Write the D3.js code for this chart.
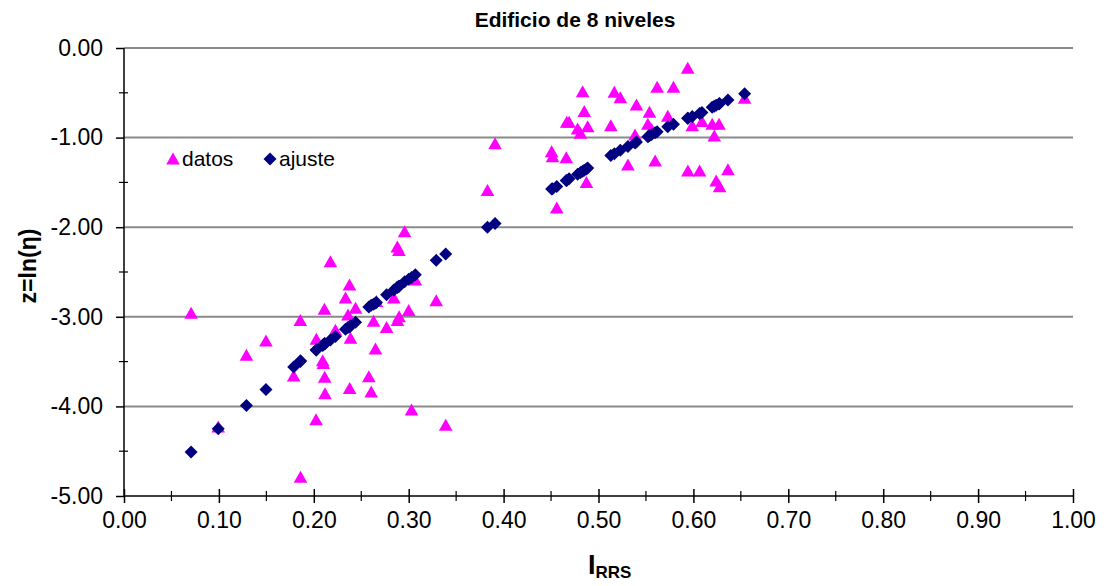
<!DOCTYPE html>
<html>
<head>
<meta charset="utf-8">
<script src="https://cdn.jsdelivr.net/npm/d3@7"></script>
<style>
  html, body { margin: 0; padding: 0; background: #fff; }
  svg { display: block; font-family: "Liberation Sans", Arial, sans-serif; }
</style>
</head>
<body>
<svg id="chart" width="1104" height="586"></svg>
<script>
// Relative residual strength index of each record
const irrs = [
  0.0707, 0.0993, 0.129, 0.1496, 0.1788, 0.1858, 0.186, 0.2024, 0.2027, 0.2094,
  0.2100, 0.2112, 0.2115, 0.2118, 0.2175, 0.2228, 0.2334, 0.236, 0.2376, 0.2378,
  0.2387, 0.244, 0.258, 0.2605, 0.263, 0.265, 0.266, 0.2767, 0.2844, 0.288,
  0.2882, 0.2897, 0.2899, 0.2957, 0.300, 0.303, 0.307, 0.329, 0.339, 0.383,
  0.391,
  0.4506, 0.4516, 0.456, 0.466, 0.4665, 0.469, 0.478, 0.481, 0.4833, 0.485,
  0.4873, 0.4886, 0.513, 0.5167, 0.523, 0.531, 0.5385, 0.540, 0.552, 0.5537,
  0.556, 0.5597, 0.5618, 0.573, 0.579, 0.594, 0.5988, 0.6065, 0.609, 0.6198,
  0.622, 0.624, 0.627, 0.6276, 0.6364, 0.654, 0.5942
];

// Observed z = ln(eta)
const zDatos = [
  -2.96, -4.23, -3.43, -3.27, -3.66, -3.04, -4.79, -4.15, -3.25, -3.49,
  -3.52, -2.917, -3.675, -3.86, -2.385, -3.15, -2.79, -2.98, -2.645, -3.80,
  -3.24, -2.905, -3.67, -3.84, -3.05, -3.36, -2.83, -3.12, -2.79, -2.22,
  -3.04, -2.26, -3.00, -2.05, -2.93, -4.04, -2.59, -2.82, -4.21, -1.59,
  -1.07,
  -1.157, -1.213, -1.785, -1.225, -0.83, -0.83, -0.904, -0.952, -0.488, -0.71,
  -1.50, -0.878, -0.867, -0.495, -0.554, -1.306, -0.971, -0.636, -0.85, -0.718,
  -0.91, -1.261, -0.439, -0.763, -0.439, -0.227, -0.867, -1.373, -0.82, -0.852,
  -0.982, -1.484, -0.852, -1.548, -1.36, -0.561, -1.373
];

// Fitted z for the same records
const zAjuste = [
  -4.51, -4.25, -3.99, -3.81, -3.56, -3.50, -3.49, -3.37, -3.37, -3.32,
  -3.31, -3.30, -3.30, -3.30, -3.26, -3.22, -3.14, -3.12, -3.11, -3.11,
  -3.10, -3.06, -2.89, -2.87, -2.86, -2.845, -2.84, -2.755, -2.70, -2.67,
  -2.67, -2.66, -2.66, -2.61, -2.58, -2.56, -2.53, -2.37, -2.30, -2.00,
  -1.96,
  -1.575, -1.57, -1.545, -1.48, -1.48, -1.46, -1.41, -1.39, -1.375, -1.365,
  -1.35, -1.34, -1.20, -1.18, -1.14, -1.10, -1.06, -1.05, -0.99, -0.98,
  -0.965, -0.945, -0.935, -0.88, -0.85, -0.785, -0.765, -0.73, -0.72, -0.66,
  -0.65, -0.64, -0.625, -0.62, -0.58, -0.51, -0.785
];

const xTickValues = [0, 0.1, 0.2, 0.3, 0.4, 0.5, 0.6, 0.7, 0.8, 0.9, 1.0];
const xTickLabels = ["0.00", "0.10", "0.20", "0.30", "0.40", "0.50", "0.60", "0.70", "0.80", "0.90", "1.00"];
const yTickValues = [0, -1, -2, -3, -4, -5];
const yTickLabels = ["0.00", "-1.00", "-2.00", "-3.00", "-4.00", "-5.00"];
const seriesNames = ["datos", "ajuste"];

const svg = d3.select("#chart");
const plotLeft = 124, plotRight = 1073, plotTop = 48, plotBottom = 496;

const x = d3.scaleLinear().domain([0, 1]).range([plotLeft, plotRight]);
const y = d3.scaleLinear().domain([-5, 0]).range([plotBottom, plotTop]);

const MAGENTA = "#ff00ff";
const NAVY = "#000080";

// marker shapes, centred on the origin
const triPath = "M0,-6.5 L6.8,5.5 L-6.8,5.5 Z";
const diaPath = "M0,-6.5 L6.5,0 L0,6.5 L-6.5,0 Z";

// horizontal gridlines
svg.append("g")
  .selectAll("line")
  .data(yTickValues.filter(v => v > -5))
  .join("line")
  .attr("x1", plotLeft).attr("x2", plotRight)
  .attr("y1", d => y(d)).attr("y2", d => y(d))
  .attr("stroke", "#8a8a8a")
  .attr("stroke-width", 2);

// y axis
const yAxis = d3.axisLeft(y)
  .tickValues(yTickValues)
  .tickSize(8)
  .tickFormat((d, i) => yTickLabels[i]);
const gy = svg.append("g").attr("transform", `translate(${plotLeft},0)`).call(yAxis);
gy.select(".domain").attr("stroke", "#000").attr("stroke-width", 1.5).attr("d", `M0,${plotTop}V${plotBottom}`);
gy.selectAll(".tick line").attr("stroke", "#000").attr("stroke-width", 1.5);
gy.selectAll(".tick text")
  .attr("x", -21)
  .attr("font-family", "Liberation Sans, Arial, sans-serif")
  .attr("font-size", 23)
  .attr("fill", "#000");

// y minor ticks
const yMinor = d3.range(-4.5, 0, 1);
svg.append("g")
  .selectAll("line")
  .data(yMinor)
  .join("line")
  .attr("x1", plotLeft - 5).attr("x2", plotLeft + 4)
  .attr("y1", d => y(d)).attr("y2", d => y(d))
  .attr("stroke", "#000").attr("stroke-width", 1.2);

// x axis
const xAxis = d3.axisBottom(x)
  .tickValues(xTickValues)
  .tickSize(7)
  .tickFormat((d, i) => xTickLabels[i]);
const gx = svg.append("g").attr("transform", `translate(0,${plotBottom})`).call(xAxis);
gx.select(".domain").attr("stroke", "#000").attr("stroke-width", 1.5).attr("d", `M${plotLeft},0H${plotRight}`);
gx.selectAll(".tick line").attr("stroke", "#000").attr("stroke-width", 1.5).attr("y1", -7);
gx.selectAll(".tick text")
  .attr("y", 16)
  .attr("font-family", "Liberation Sans, Arial, sans-serif")
  .attr("font-size", 23)
  .attr("fill", "#000");

// x minor ticks
const xMinor = d3.range(0.05, 1, 0.1);
svg.append("g")
  .selectAll("line")
  .data(xMinor)
  .join("line")
  .attr("x1", d => x(d)).attr("x2", d => x(d))
  .attr("y1", plotBottom - 5).attr("y2", plotBottom + 5)
  .attr("stroke", "#000").attr("stroke-width", 1.2);

// observed points
svg.append("g")
  .selectAll("path")
  .data(irrs.map((v, i) => [v, zDatos[i]]))
  .join("path")
  .attr("d", triPath)
  .attr("transform", d => `translate(${x(d[0])},${y(d[1])})`)
  .attr("fill", MAGENTA);

// fitted points
svg.append("g")
  .selectAll("path")
  .data(irrs.map((v, i) => [v, zAjuste[i]]))
  .join("path")
  .attr("d", diaPath)
  .attr("transform", d => `translate(${x(d[0])},${y(d[1])})`)
  .attr("fill", NAVY);

// title
svg.append("text")
  .attr("x", 575).attr("y", 27)
  .attr("text-anchor", "middle")
  .attr("font-size", 21)
  .attr("font-weight", "bold")
  .text("Edificio de 8 niveles");

// y axis title
svg.append("text")
  .attr("transform", "translate(36,266) rotate(-90)")
  .attr("text-anchor", "middle")
  .attr("font-size", 23)
  .attr("font-weight", "bold")
  .text("z=ln(η)");

// x axis title with subscript
const xt = svg.append("text")
  .attr("x", 588).attr("y", 574)
  .attr("font-weight", "bold");
xt.append("tspan").attr("font-size", 27).text("I");
xt.append("tspan").attr("font-size", 17).attr("dy", 4).text("RRS");

// legend
const legend = svg.append("g");
const legendItems = [
  { name: seriesNames[0], shape: triPath, color: MAGENTA, mx: 173, tx: 182 },
  { name: seriesNames[1], shape: diaPath, color: NAVY, mx: 270, tx: 279 }
];
legendItems.forEach(it => {
  legend.append("path").attr("d", it.shape)
    .attr("transform", `translate(${it.mx},159)`)
    .attr("fill", it.color);
  legend.append("text").attr("x", it.tx).attr("y", 166)
    .attr("font-size", 21).text(it.name);
});
</script>
</body>
</html>
